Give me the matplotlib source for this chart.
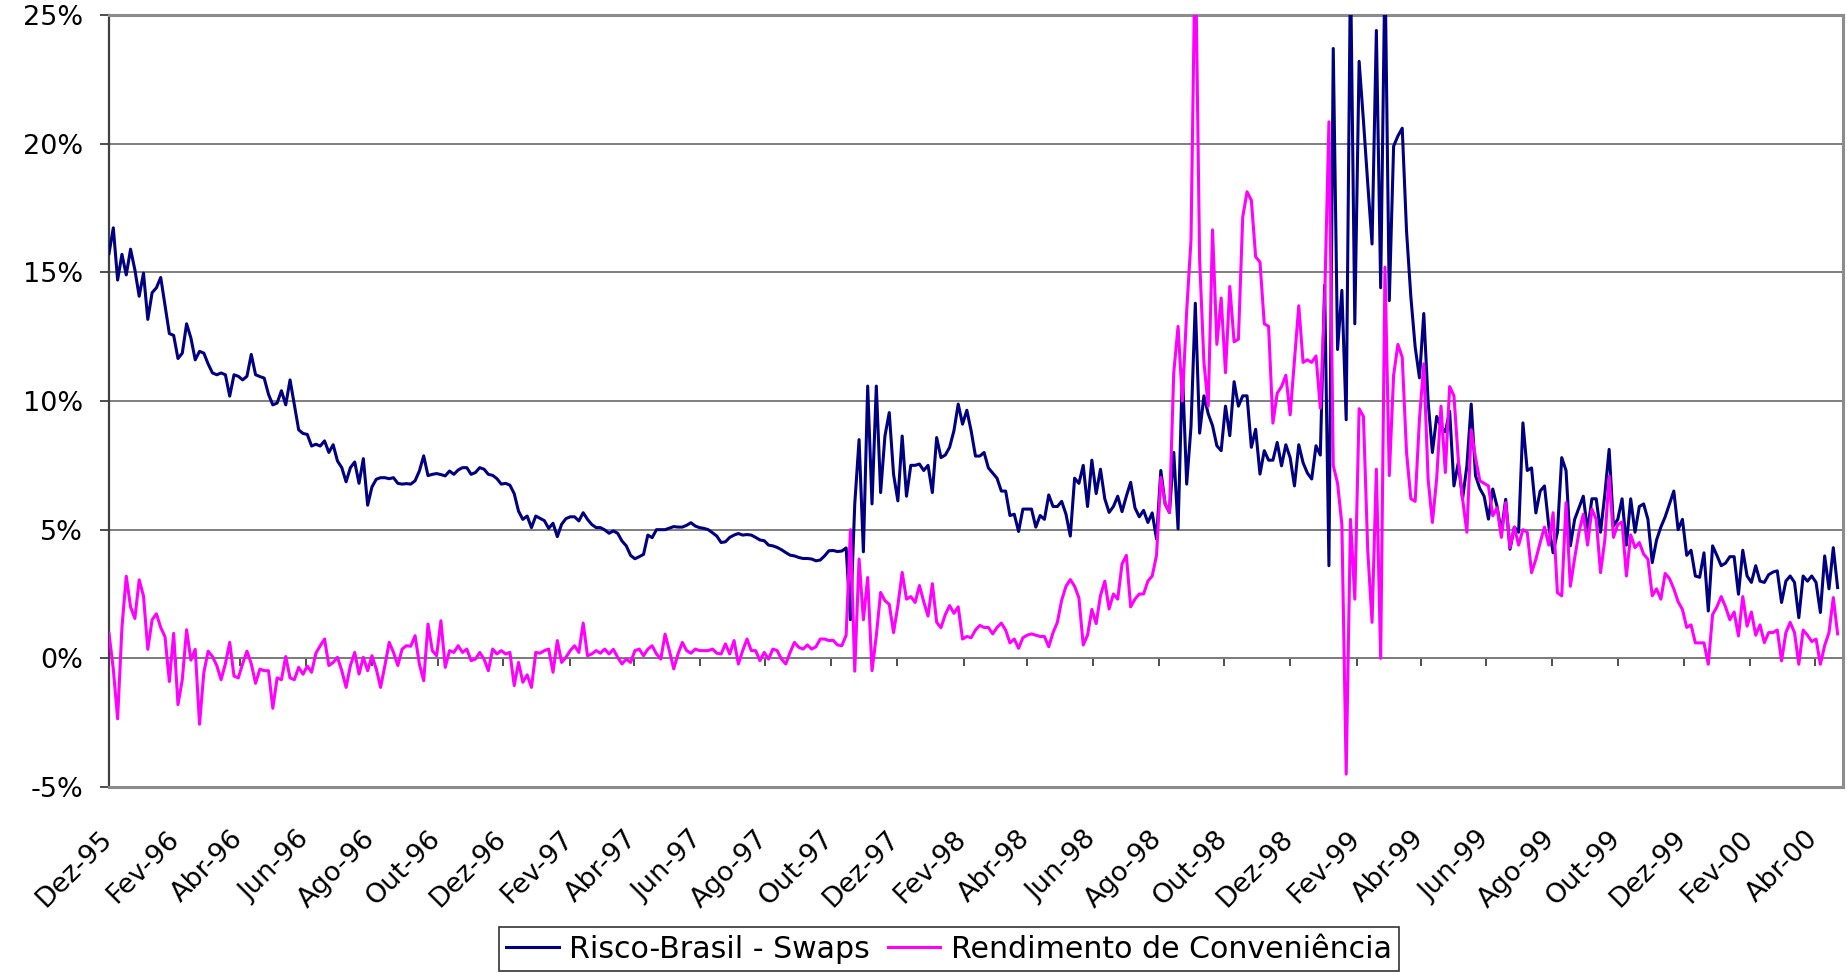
import matplotlib
matplotlib.use("Agg")
import matplotlib.dates as mdates
import matplotlib.pyplot as plt
import matplotlib.transforms as mtransforms
import pandas as pd

NAVY = "#000080"
MAGENTA = "#ff00ff"
GRID = "#7f7f7f"
FRAME = "#8c8c8c"
AXIS = "#404040"

# one reading every 4 days from 1 Dec 1995 (% a.a.)
series_start = "1995-12-01"

# Dec 1995 - mid Oct 1997
risk_early = [
    15.73, 16.73, 14.7, 15.7, 14.9, 15.9, 15.1, 14.07, 14.97, 13.17,
    14.21, 14.4, 14.8, 13.7, 12.62, 12.55, 11.65, 11.86, 13.0, 12.45,
    11.6, 11.93, 11.86, 11.44, 11.09, 11.02, 11.09, 11.02, 10.19, 11.02,
    10.96, 10.82, 10.96, 11.81, 11.02, 10.95, 10.89, 10.26, 9.85, 9.92,
    10.4, 9.85, 10.82, 9.85, 8.88, 8.74, 8.7, 8.25, 8.32, 8.25,
    8.45, 8.0, 8.3, 7.67, 7.41, 6.86, 7.41, 7.63, 6.8, 7.76,
    5.95, 6.66, 6.96, 7.02, 7.02, 6.98, 7.02, 6.8, 6.77, 6.79,
    6.77, 6.9, 7.28, 7.87, 7.1, 7.15, 7.18, 7.14, 7.09, 7.28,
    7.15, 7.32, 7.41, 7.41, 7.15, 7.22, 7.41, 7.35, 7.15, 7.11,
    6.98, 6.77, 6.8, 6.73, 6.4, 5.72, 5.4, 5.53, 5.08, 5.53,
    5.44, 5.35, 5.05, 5.25, 4.73, 5.21, 5.43, 5.5, 5.5, 5.34,
    5.66, 5.4, 5.2, 5.08, 5.08, 4.99, 4.86, 4.95, 4.86, 4.56,
    4.37, 4.0, 3.87, 3.95, 4.04, 4.79, 4.69, 5.0, 5.0, 5.0,
    5.06, 5.12, 5.1, 5.1, 5.17, 5.27, 5.14, 5.08, 5.05, 5.0,
    4.88, 4.75, 4.5, 4.53, 4.7, 4.79, 4.85, 4.79, 4.81, 4.79,
    4.7, 4.6, 4.57, 4.4, 4.37, 4.31, 4.22, 4.11, 4.01, 3.98,
    3.92, 3.88, 3.88, 3.86, 3.79, 3.82, 3.98, 4.18, 4.19, 4.15,
    4.17, 4.29,
]
conv_early = [
    0.97, -0.42, -2.35, 1.2, 3.19, 2.0, 1.55, 3.05, 2.42, 0.35,
    1.5, 1.73, 1.2, 0.83, -0.9, 0.97, -1.8, -0.83, 1.11, -0.07,
    0.35, -2.56, -0.55, 0.28, 0.07, -0.28, -0.83, -0.21, 0.62, -0.69,
    -0.76, -0.21, 0.28, -0.21, -0.97, -0.42, -0.48, -0.48, -1.94, -0.76,
    -0.83, 0.07, -0.76, -0.83, -0.35, -0.62, -0.3, -0.54, 0.2, 0.49,
    0.75, -0.28, -0.16, 0.04, -0.48, -1.13, -0.28, 0.23, -0.61, 0.04,
    -0.48, 0.1, -0.41, -1.13, -0.28, 0.62, 0.23, -0.28, 0.36, 0.49,
    0.47, 0.88, -0.22, -0.87, 1.33, 0.3, 0.1, 1.46, -0.35, 0.3,
    0.23, 0.49, 0.23, 0.36, -0.09, -0.03, 0.23, -0.03, -0.48, 0.36,
    0.17, 0.3, 0.17, 0.23, -1.06, -0.16, -0.93, -0.64, -1.13, 0.23,
    0.2, 0.3, 0.36, -0.54, 0.69, -0.16, 0.04, 0.3, 0.49, 0.23,
    1.37, 0.1, 0.17, 0.3, 0.2, 0.36, 0.17, 0.35, 0.04, -0.22,
    -0.03, -0.16, 0.3, 0.36, 0.1, 0.36, 0.49, 0.17, -0.03, 0.94,
    0.3, -0.41, 0.17, 0.62, 0.3, 0.2, 0.36, 0.3, 0.3, 0.3,
    0.36, 0.2, 0.17, 0.56, 0.17, 0.69, -0.22, 0.3, 0.75, 0.3,
    0.3, -0.09, 0.23, -0.03, 0.36, 0.3, -0.03, -0.22, 0.23, 0.62,
    0.43, 0.36, 0.52, 0.36, 0.45, 0.75, 0.75, 0.69, 0.7, 0.52,
    0.49, 0.9,
]

# Oct 1997 break to Apr 2000
risk_late = [
    1.5, 6.0, 8.5, 4.14, 10.58, 6.0, 10.58, 6.44, 8.64, 9.55,
    7.15, 6.12, 8.64, 6.3, 7.5, 7.5, 7.55, 7.3, 7.5, 6.44,
    8.58, 7.8, 7.9, 8.2, 8.84, 9.88, 9.1, 9.64, 8.84, 7.86,
    7.86, 8.0, 7.4, 7.2, 7.0, 6.5, 6.5, 5.55, 5.6, 4.93,
    5.8, 5.8, 5.8, 5.1, 5.55, 5.4, 6.35, 5.9, 5.9, 6.1,
    5.6, 4.75, 7.0, 6.8, 7.5, 5.9, 7.7, 6.4, 7.35, 6.2,
    5.67, 5.9, 6.3, 5.7, 6.3, 6.84, 5.85, 5.5, 5.75, 5.28,
    5.65, 4.64, 7.3, 6.0, 5.67, 8.0, 5.03, 11.2, 6.77, 9.0,
    13.8, 8.75, 10.2, 9.5, 9.04, 8.26, 8.07, 9.8, 8.65, 10.75,
    9.8, 10.2, 10.2, 8.2, 8.9, 7.16, 8.07, 7.7, 7.7, 8.39,
    7.48, 8.3, 7.8, 6.7, 8.3, 7.6, 7.2, 6.97, 8.26, 7.9,
    14.5, 3.6, 23.7, 12.0, 14.3, 9.27, 27.0, 13.0, 23.2, 20.9,
    18.45, 16.1, 24.4, 14.4, 27.0, 13.9, 19.9, 20.3, 20.6, 16.6,
    14.05, 12.1, 10.9, 13.4, 10.0, 8.0, 9.4, 9.0, 8.8, 9.6,
    6.7, 7.6, 6.2, 7.48, 9.88, 7.1, 6.6, 6.3, 5.41, 6.58,
    5.9, 4.9, 6.18, 4.24, 5.1, 4.9, 9.15, 7.3, 7.4, 5.65,
    6.5, 6.7, 5.14, 4.1, 4.9, 7.8, 7.3, 4.37, 5.4, 5.85,
    6.3, 4.95, 6.2, 6.2, 4.9, 6.37, 8.12, 5.14, 5.4, 6.2,
    4.4, 6.2, 4.9, 5.9, 6.0, 5.4, 3.72, 4.6, 5.1, 5.5,
    6.0, 6.5, 5.0, 5.4, 4.0, 4.2, 3.2, 3.15, 4.1, 1.84,
    4.37, 4.0, 3.6, 3.7, 3.95, 3.95, 2.49, 4.2, 3.2, 2.95,
    3.6, 3.0, 2.95, 3.25, 3.35, 3.4, 2.17, 3.0, 3.2, 2.95,
    1.58, 3.2, 3.0, 3.2, 2.95, 1.78, 3.98, 2.7, 4.3, 2.75,
]
conv_late = [
    5.0, -0.5, 3.86, 1.5, 3.14, -0.48, 0.88, 2.56, 2.24, 2.1,
    1.0, 2.05, 3.34, 2.3, 2.4, 2.17, 2.83, 2.2, 1.64, 2.9,
    1.4, 1.19, 1.7, 2.05, 1.75, 2.0, 0.75, 0.85, 0.8, 1.1,
    1.28, 1.2, 1.2, 0.95, 1.2, 1.37, 1.1, 0.6, 0.75, 0.39,
    0.8, 0.9, 0.95, 0.9, 0.85, 0.85, 0.45, 1.0, 1.4, 2.26,
    2.8, 3.06, 2.8, 2.35, 0.52, 0.9, 1.9, 1.35, 2.44, 3.0,
    1.92, 2.5, 2.3, 3.67, 4.0, 2.0, 2.3, 2.5, 2.5, 3.0,
    3.2, 4.0, 7.03, 6.0, 5.67, 11.1, 12.9, 10.0, 13.5, 16.25,
    28.0, 15.5, 11.5, 9.8, 16.65, 12.2, 14.0, 11.1, 14.45, 12.3,
    12.4, 17.15, 18.13, 17.8, 15.6, 15.4, 13.0, 12.9, 9.14, 10.3,
    10.56, 11.0, 9.46, 11.6, 13.7, 11.5, 11.6, 11.5, 11.75, 9.72,
    13.9, 20.85, 7.5, 6.8, 5.2, -4.5, 5.4, 2.3, 9.7, 9.4,
    4.2, 1.4, 7.35, 0.0, 15.2, 7.1, 11.0, 12.2, 11.7, 8.0,
    6.2, 6.1, 9.3, 11.45, 6.97, 5.28, 7.0, 9.8, 7.22, 10.56,
    10.2, 7.74, 6.19, 4.9, 8.88, 7.8, 6.9, 6.8, 6.7, 5.54,
    5.85, 4.7, 6.05, 4.3, 5.1, 4.4, 5.0, 4.9, 3.33, 3.85,
    4.5, 5.1, 4.4, 5.66, 2.55, 2.43, 6.05, 2.8, 3.9, 4.9,
    5.6, 4.4, 5.8, 5.4, 3.33, 4.6, 7.08, 4.7, 5.2, 5.3,
    3.2, 4.8, 4.3, 4.5, 4.05, 3.85, 2.43, 2.7, 2.3, 3.3,
    3.1, 2.7, 2.2, 1.9, 1.2, 1.3, 0.6, 0.6, 0.6, -0.23,
    1.7, 2.0, 2.4, 2.0, 1.5, 1.8, 0.87, 2.4, 1.25, 1.8,
    0.9, 1.3, 0.61, 1.0, 1.0, 1.1, -0.1, 1.0, 1.4, 1.0,
    -0.23, 1.1, 0.9, 0.65, 0.75, -0.23, 0.5, 1.0, 2.36, 0.95,
]

tick_labels = [
    "Dez-95", "Fev-96", "Abr-96", "Jun-96", "Ago-96", "Out-96", "Dez-96",
    "Fev-97", "Abr-97", "Jun-97", "Ago-97", "Out-97", "Dez-97",
    "Fev-98", "Abr-98", "Jun-98", "Ago-98", "Out-98", "Dez-98",
    "Fev-99", "Abr-99", "Jun-99", "Ago-99", "Out-99", "Dez-99",
    "Fev-00", "Abr-00",
]
y_ticks = [-5, 0, 5, 10, 15, 20, 25]
y_labels = ["-5%", "0%", "5%", "10%", "15%", "20%", "25%"]

risk = risk_early + risk_late
conv = conv_early + conv_late
dates = pd.date_range(series_start, periods=len(risk), freq="4D")
tick_dates = pd.date_range("1995-12-01", periods=len(tick_labels), freq="2MS")

plt.rcParams.update({"font.family": "DejaVu Sans", "font.size": 19.5})

W, H = 1847, 973
fig = plt.figure(figsize=(W / 100, H / 100), dpi=100)
fig.patch.set_facecolor("white")
ax = fig.add_axes([109 / W, 1 - 787 / H, (1843 - 109) / W, (787 - 15) / H])

ax.plot(dates, risk, color=NAVY, lw=2.2, label="Risco-Brasil - Swaps", zorder=3)
ax.plot(dates, conv, color=MAGENTA, lw=2.2, label="Rendimento de Conveniência", zorder=4)

ax.set_ylim(-5, 25)
ax.set_xlim(pd.Timestamp("1995-12-01"), pd.Timestamp("2000-04-27"))
ax.set_yticks(y_ticks, y_labels)
ax.grid(axis="y", color=GRID, lw=1.4, zorder=1)
ax.tick_params(axis="y", direction="out", length=6.5, width=1.3, color=AXIS, pad=12)

# month labels sit under the frame, tick marks hang from the 0% line
ax.set_xticks(tick_dates, tick_labels, rotation=45, ha="right", va="top",
              rotation_mode="anchor")
ax.tick_params(axis="x", length=0, pad=28)
shift = mtransforms.ScaledTranslation(-0.10, 0, fig.dpi_scale_trans)
for lbl in ax.get_xticklabels():
    lbl.set_transform(lbl.get_transform() + shift)

zero_axis = ax.secondary_xaxis(5 / 30)
zero_axis.set_xticks(mdates.date2num(tick_dates))
zero_axis.tick_params(axis="x", direction="out", length=6, width=1.3, color=AXIS,
                      labelbottom=False, labeltop=False)
zero_axis.spines["bottom"].set_color(AXIS)
zero_axis.spines["bottom"].set_linewidth(1.4)

for side in ("top", "right", "bottom"):
    ax.spines[side].set_color(FRAME)
    ax.spines[side].set_linewidth(2.2)
ax.spines["left"].set_color(AXIS)
ax.spines["left"].set_linewidth(1.6)

leg = ax.legend(loc="center", bbox_to_anchor=(949 / W, 1 - 949 / H),
                bbox_transform=fig.transFigure, ncol=2, frameon=True,
                fancybox=False, edgecolor="#000000", fontsize=21.6,
                handlelength=1.75, handletextpad=0.35, columnspacing=0.6,
                borderpad=0.25, borderaxespad=0)
leg.get_frame().set_linewidth(1.2)

fig.savefig("out.png", dpi=100, facecolor="white")
